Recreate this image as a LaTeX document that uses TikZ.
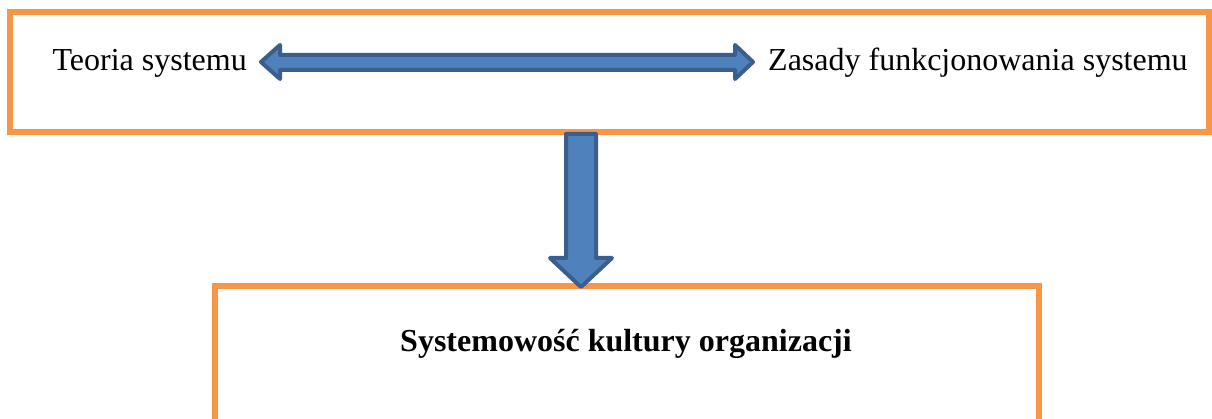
\documentclass[tikz,border=0pt]{standalone}
\usepackage{fontspec}
\setmainfont{Liberation Serif}
\usepackage{xcolor}
\usetikzlibrary{positioning}
\definecolor{ramka}{HTML}{F79646}
\definecolor{strzalka}{HTML}{4F81BD}
\definecolor{obrys}{HTML}{3A5F8C}
\tikzset{
  pole/.style={draw=ramka,line width=6pt},
  blok/.style={fill=strzalka,draw=obrys,line width=4pt,line join=round},
  napis/.style={inner sep=0pt,font=\fontsize{32}{38}\selectfont}
}
\begin{document}
\begin{tikzpicture}[x=1pt,y=-1pt]
\useasboundingbox (0,0) rectangle (1212,419);
\clip (0,0) rectangle (1212,419);
\fill[white](0,0)rectangle(1212,419);
% ramki
\draw[pole](10,12)rectangle(1209,132);
\draw[pole](214.5,286.5)rectangle(1039,440);
% napisy
\node[napis,anchor=base east](teoria) at (247,71){Teoria systemu};
\node[napis,anchor=base west](zasady) at (768,71){Zasady funkcjonowania systemu};
\node[napis,anchor=base,font=\fontsize{32}{38}\selectfont\bfseries](wynik) at (626,352){Systemowość kultury organizacji};
% strzalka pozioma
\coordinate (lewy) at ([xshift=14pt]teoria.east|-0,62);
\coordinate (prawy) at ([xshift=-15pt]zasady.west|-0,62);
\draw[blok](lewy)--(280,45)--(280,55)--(735,55)--(735,45)--(prawy)
  --(735,79)--(735,70)--(280,70)--(280,79)--cycle;
% strzalka w dol
\coordinate (gora) at (581,134);
\coordinate (grot) at (581,287);
\draw[blok](gora)++(-15,0)--++(30,0)--(596,258)--(612,258)--(grot)
  --(550,258)--(566,258)--cycle;
\end{tikzpicture}
\end{document}
